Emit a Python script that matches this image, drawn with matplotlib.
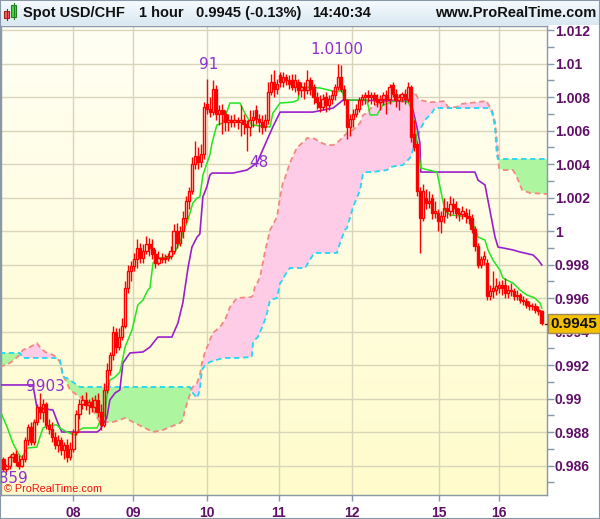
import numpy as np
import matplotlib.pyplot as plt
from matplotlib.patches import Rectangle
from matplotlib.lines import Line2D

plt.rcParams['font.family'] = ['Liberation Sans', 'DejaVu Sans']

# hourly USD/CHF bars, values in pips above 0.9800
opens = [64, 58, 60, 65, 67, 62, 60, 64, 75, 83,
         74, 86, 95, 92, 97, 84, 82, 77, 72, 75,
         69, 72, 65, 70, 80, 91, 97, 99, 96, 98,
         95, 99, 92, 84, 105, 117, 126, 140, 131, 137,
         143, 166, 176, 179, 183, 190, 184, 188, 192, 190,
         186, 181, 184, 183, 184, 185, 188, 200, 193, 200,
         208, 218, 224, 240, 245, 241, 246, 276, 273, 271,
         285, 270, 272, 270, 265, 266, 265, 266, 265, 266,
         264, 262, 266, 272, 267, 265, 262, 266, 283, 289,
         285, 293, 289, 292, 290, 290, 286, 289, 284, 286,
         284, 290, 286, 280, 277, 274, 280, 275, 279, 281,
         286, 292, 285, 278, 262, 267, 270, 273, 278, 280,
         281, 280, 281, 279, 277, 279, 281, 279, 287, 282,
         278, 280, 282, 279, 286, 258, 252, 224, 208, 220,
         217, 220, 211, 211, 206, 209, 214, 212, 216, 214,
         211, 210, 211, 209, 208, 201, 191, 180, 183, 181,
         161, 164, 165, 166, 168, 168, 163, 165, 164, 161,
         162, 159, 158, 156, 155, 155, 153, 152]
highs = [65, 61, 66, 68, 69, 66, 66, 77, 85, 86,
         88, 97, 103, 100, 98, 88, 86, 80, 78, 77,
         74, 76, 74, 82, 93, 100, 102, 104, 100, 101,
         102, 103, 97, 109, 121, 128, 143, 142, 142, 148,
         170, 180, 182, 187, 195, 193, 192, 197, 196, 195,
         189, 188, 187, 186, 187, 191, 204, 205, 203, 212,
         221, 226, 244, 254, 250, 252, 277, 291, 280, 290,
         287, 275, 276, 272, 270, 269, 270, 268, 275, 270,
         266, 272, 272, 275, 270, 269, 270, 289, 294, 296,
         291, 295, 295, 294, 293, 294, 294, 291, 289, 289,
         296, 292, 288, 283, 281, 282, 283, 281, 284, 288,
         300, 299, 287, 279, 270, 273, 276, 280, 282, 283,
         284, 283, 283, 282, 281, 283, 284, 288, 289, 285,
         282, 283, 285, 289, 287, 266, 254, 226, 228, 225,
         224, 222, 218, 213, 212, 220, 218, 221, 220, 218,
         214, 215, 214, 213, 210, 203, 193, 185, 188, 183,
         168, 176, 172, 170, 171, 172, 168, 169, 166, 165,
         163, 161, 160, 158, 157, 157, 155, 153]
lows = [57, 56, 58, 62, 60, 58, 59, 62, 72, 72,
        72, 84, 88, 86, 82, 79, 74, 70, 68, 66,
        64, 62, 63, 68, 78, 88, 94, 93, 91, 92,
        92, 89, 81, 83, 103, 114, 123, 127, 129, 135,
        142, 163, 170, 176, 178, 181, 181, 186, 185, 183,
        178, 180, 181, 181, 182, 183, 186, 190, 191, 196,
        205, 213, 222, 237, 237, 238, 243, 270, 268, 269,
        266, 263, 258, 260, 260, 262, 262, 261, 257, 258,
        248, 257, 262, 264, 259, 258, 260, 264, 281, 280,
        282, 286, 286, 287, 285, 284, 283, 281, 280, 279,
        282, 281, 276, 273, 271, 272, 271, 272, 276, 278,
        284, 283, 275, 255, 257, 262, 268, 271, 275, 276,
        277, 276, 275, 274, 272, 275, 270, 276, 280, 274,
        272, 277, 276, 277, 253, 248, 221, 187, 206, 213,
        214, 207, 208, 200, 199, 205, 208, 209, 210, 208,
        206, 207, 205, 204, 199, 188, 178, 178, 180, 159,
        159, 160, 162, 163, 162, 160, 160, 161, 159, 159,
        157, 156, 154, 153, 153, 151, 150, 144]
closes = [58, 60, 65, 67, 62, 60, 64, 75, 83, 74,
          86, 95, 92, 97, 84, 82, 77, 72, 75, 69,
          72, 65, 70, 80, 91, 97, 99, 96, 98, 95,
          99, 92, 84, 105, 117, 126, 140, 131, 137, 143,
          166, 176, 179, 183, 190, 184, 188, 192, 190, 186,
          181, 184, 183, 184, 185, 188, 200, 193, 200, 208,
          218, 224, 240, 245, 241, 246, 274, 273, 271, 285,
          270, 272, 270, 265, 266, 265, 266, 265, 266, 264,
          262, 266, 268, 267, 265, 262, 266, 283, 289, 285,
          288, 289, 292, 290, 288, 286, 290, 284, 286, 284,
          290, 285, 280, 277, 274, 279, 275, 279, 281, 286,
          292, 285, 278, 262, 267, 270, 273, 278, 280, 281,
          280, 281, 279, 277, 279, 281, 279, 286, 282, 278,
          280, 282, 279, 286, 256, 250, 224, 208, 224, 217,
          218, 211, 212, 206, 209, 214, 212, 216, 214, 211,
          210, 212, 209, 208, 201, 191, 180, 183, 185, 161,
          164, 166, 167, 168, 166, 163, 165, 164, 161, 162,
          159, 158, 156, 155, 155, 153, 152, 145]

# tenkan-sen (green) vertices: bar, pips
tenkan_bar = [-1.2, 1.2, 3.1, 4.8, 6.1, 7.7, 11.0, 12.0, 13.0, 15.3,
              17.6, 18.6, 20.9, 23.5, 24.5, 26.2, 30.8, 31.7, 33.4, 34.0,
              35.0, 36.7, 38.3, 39.3, 40.0, 42.3, 44.2, 45.9, 47.5, 48.2,
              49.2, 50.8, 55.4, 56.4, 58.1, 59.0, 60.7, 62.3, 63.7, 64.6,
              65.6, 67.9, 68.6, 70.2, 72.2, 74.5, 77.8, 79.4, 81.7, 87.7,
              88.6, 91.0, 95.2, 96.9, 97.5, 104.1, 109.7, 111.3, 112.3, 119.6,
              120.6, 122.9, 123.8, 124.8, 129.4, 133.1, 134.4, 135.4, 136.3, 137.3,
              142.6, 145.2, 146.9, 153.5, 154.4, 156.1, 158.4, 159.4, 161.0, 163.3,
              164.3, 165.6, 167.6, 169.9, 172.2, 174.8, 176.5, 177.1]
tenkan_val = [93.1, 83.0, 73.4, 67.5, 64.5, 70.4, 71.0, 77.0, 82.4, 84.2,
              84.2, 82.4, 80.0, 78.2, 80.6, 82.4, 82.4, 86.0, 90.2, 100.3,
              111.0, 112.8, 115.8, 124.2, 130.7, 140.9, 155.8, 158.8, 164.8, 166.0,
              180.9, 183.9, 184.5, 187.5, 193.4, 198.8, 206.6, 216.7, 219.7, 220.3,
              233.4, 245.4, 252.5, 263.3, 264.5, 276.4, 276.4, 270.4, 263.3, 262.1,
              270.4, 276.4, 277.0, 278.2, 286.0, 285.4, 283.0, 284.2, 278.2, 278.2,
              269.3, 269.3, 272.2, 275.2, 278.2, 277.0, 272.2, 262.1, 250.1, 237.6,
              235.2, 212.5, 209.6, 208.4, 204.8, 196.4, 194.6, 188.7, 182.7, 176.7,
              171.9, 170.7, 169.0, 164.8, 161.8, 160.0, 157.0, 154.0]

# kijun-sen (purple) vertices
kijun_bar = [-1.2, 9.7, 11.0, 12.0, 16.3, 17.9, 19.2, 30.8, 31.7, 34.0,
             35.0, 36.7, 38.3, 39.3, 41.6, 45.9, 48.2, 50.8, 55.4, 57.4,
             59.0, 60.7, 62.0, 63.7, 64.6, 65.6, 66.9, 67.9, 68.6, 75.5,
             80.1, 83.4, 86.7, 88.6, 91.0, 101.8, 108.4, 109.7, 111.7, 133.7,
             134.7, 136.0, 137.0, 137.3, 155.1, 156.1, 158.4, 160.0, 161.7, 162.7,
             164.3, 167.6, 169.9, 174.2, 175.9, 177.1]
kijun_val = [108.1, 108.1, 94.9, 94.3, 93.1, 85.4, 80.0, 80.0, 81.2, 88.4,
             99.1, 103.3, 105.1, 121.2, 127.2, 127.8, 130.7, 136.7, 136.7, 145.1,
             157.0, 177.9, 190.4, 196.4, 198.2, 220.3, 226.3, 233.4, 234.6, 234.6,
             236.4, 240.6, 254.3, 262.1, 271.0, 271.0, 273.4, 275.2, 278.2, 277.6,
             272.2, 262.1, 252.5, 235.2, 235.2, 230.4, 227.5, 212.5, 196.4, 190.4,
             189.9, 188.7, 187.5, 185.7, 182.7, 179.7]

# ichimoku cloud: senkou span A / B
cloud_bar = [-1.2, 2.1, 5.4, 6.4, 8.7, 11.0, 12.0, 13.7, 16.3, 17.6,
             18.6, 19.6, 20.9, 21.9, 24.2, 25.2, 27.5, 29.4, 31.7, 36.0,
             38.3, 40.0, 42.6, 45.9, 49.2, 52.5, 54.8, 58.1, 59.0, 59.7,
             61.3, 62.0, 63.7, 64.6, 65.3, 66.3, 66.9, 67.9, 68.9, 71.2,
             72.9, 74.5, 76.8, 81.7, 82.1, 82.7, 83.7, 84.4, 85.0, 86.0,
             86.7, 87.7, 90.0, 91.0, 91.9, 92.6, 94.2, 96.5, 98.2, 99.2,
             99.8, 100.8, 101.8, 102.5, 104.1, 106.4, 108.4, 109.7, 110.7, 112.3,
             113.0, 115.0, 117.3, 118.3, 119.6, 121.2, 123.8, 126.2, 127.1, 131.4,
             133.7, 134.7, 135.4, 136.3, 137.0, 138.7, 139.6, 140.9, 141.9, 145.2,
             146.2, 149.2, 150.2, 159.0, 159.4, 160.7, 161.7, 162.3, 162.7, 163.0,
             164.3, 167.6, 168.9, 170.6, 173.2, 178.9]
span_a = [118.8, 121.2, 126.0, 129.0, 130.7, 133.1, 130.7, 127.8, 126.0, 124.2,
          121.8, 114.0, 109.3, 105.1, 102.1, 100.9, 97.9, 93.1, 86.0, 86.0,
          87.2, 88.4, 86.0, 83.0, 80.0, 81.2, 83.0, 85.4, 87.2, 93.1,
          102.1, 106.3, 109.3, 114.0, 121.2, 127.8, 130.2, 135.0, 139.1, 142.7,
          146.9, 154.6, 160.0, 160.6, 161.8, 166.6, 169.6, 172.5, 177.9, 187.5,
          192.8, 200.6, 208.4, 220.3, 228.7, 231.6, 240.6, 249.6, 252.5, 253.7,
          255.5, 255.5, 255.5, 254.9, 253.1, 251.3, 251.3, 252.5, 254.3, 257.3,
          258.5, 260.3, 264.5, 269.3, 270.4, 274.0, 276.4, 277.6, 278.2, 278.2,
          279.4, 282.4, 282.4, 279.4, 278.2, 277.6, 277.0, 277.0, 277.0, 277.6,
          274.0, 274.0, 275.8, 277.6, 275.8, 272.2, 265.1, 254.3, 248.4, 237.6,
          236.4, 236.4, 232.2, 224.5, 222.7, 222.1]
span_b = [127.2, 127.2, 127.2, 124.2, 124.2, 124.2, 124.2, 124.2, 124.2, 124.2,
          123.0, 112.8, 112.2, 111.0, 108.1, 106.9, 106.9, 106.9, 106.9, 106.9,
          106.9, 106.9, 106.9, 106.9, 106.9, 106.9, 106.9, 106.9, 106.9, 106.9,
          106.9, 103.9, 100.3, 105.1, 117.0, 120.0, 120.6, 121.8, 122.4, 123.6,
          124.2, 124.2, 124.2, 124.8, 133.1, 135.0, 136.7, 139.7, 142.1, 146.9,
          151.0, 158.8, 160.0, 169.0, 170.7, 173.7, 177.9, 177.9, 177.9, 177.9,
          179.7, 182.7, 185.7, 186.9, 186.9, 186.9, 186.9, 186.9, 192.8, 200.6,
          201.8, 214.3, 224.5, 234.6, 235.2, 235.2, 235.8, 236.4, 238.2, 239.4,
          243.6, 248.4, 252.5, 256.1, 260.3, 266.3, 268.1, 270.4, 273.4, 273.4,
          273.4, 273.4, 273.4, 273.4, 273.4, 271.0, 262.1, 245.4, 243.0, 243.0,
          243.0, 243.0, 243.0, 243.0, 243.0, 243.0]

day_labels = ['08', '09', '10', '11', '12', '15', '16']
day_bars = [22.9, 42.6, 66.9, 90.6, 114.6, 143.3, 163.0]

ytick_vals = [0.986, 0.988, 0.990, 0.992, 0.994, 0.996, 0.998, 1.000,
              1.002, 1.004, 1.006, 1.008, 1.010, 1.012]
ytick_labels = ['0.986', '0.988', '0.99', '0.992', '0.994', '0.996', '0.998', '1',
                '1.002', '1.004', '1.006', '1.008', '1.01', '1.012']
minor_vals = [0.985, 0.987, 0.989, 0.991, 0.993, 0.995, 0.997, 0.999,
              1.001, 1.003, 1.005, 1.007, 1.009, 1.011]


def pips(v):
    return 0.98 + np.asarray(v, dtype=float) / 10000


W, H = 600, 519
fig = plt.figure(figsize=(W / 100, H / 100), dpi=100)
fig.patch.set_facecolor('white')


def box(x0, y0, x1, y1):
    # pixel box (top-left origin) -> figure rect
    return [x0 / W, 1 - y1 / H, (x1 - x0) / W, (y1 - y0) / H]


grad = np.linspace(0, 1, 64)[:, None, None]
axis_col = '#8898a8'
lab_col = '#5e0f66'

# ---- title bar
tax = fig.add_axes(box(0, 0, 600, 25))
c_top, c_bot = np.array([0.97, 0.985, 0.995]), np.array([0.85, 0.91, 0.95])
tax.imshow(c_top + (c_bot - c_top) * grad, extent=[0, 600, 25, 0], aspect='auto')
tax.set_xlim(0, 600)
tax.set_ylim(25, 0)
tax.axis('off')
tax.plot([6.5, 6.5], [9, 20], color='#a02020', lw=0.8)
tax.add_patch(Rectangle((4, 11), 5, 7, fc='#f06060', ec='#a02020', lw=0.8))
tax.plot([13.5, 13.5], [3, 19], color='#208020', lw=0.8)
tax.add_patch(Rectangle((11, 5), 5, 12, fc='#44dd44', ec='#208020', lw=0.8))
for tx, s in [(23, 'Spot USD/CHF'), (139, '1 hour'), (196, '0.9945 (-0.13%)'), (312, '14:40:34')]:
    tax.text(tx, 13, s, fontsize=10.5, fontweight='bold', color='#111111', va='center', ha='left')
tax.text(596, 13, 'www.ProRealTime.com', fontsize=10.5, fontweight='bold', color='#111111',
         va='center', ha='right')

# ---- main chart
ax = fig.add_axes(box(1, 26, 547, 495))
x0, x1 = -0.8, 178.8
y0, y1 = 0.98424, 1.01224
b_top, b_bot = np.array([1.0, 1.0, 0.955]), np.array([1.0, 0.985, 0.80])
ax.imshow(b_top + (b_bot - b_top) * grad, extent=[x0, x1, y0, y1], aspect='auto', zorder=0)
ax.set_axisbelow(True)
ax.grid(True, color='#d9d5bb', lw=1)

cb = np.array(cloud_bar)
sa, sb = pips(span_a), pips(span_b)
ax.fill_between(cb, sa, sb, where=sa >= sb, interpolate=True, color='#ffcce8', lw=0, zorder=2)
ax.fill_between(cb, sa, sb, where=sa < sb, interpolate=True, color='#aef5a0', lw=0, zorder=2)
ax.plot(cb, sa, color='#f08a80', lw=1.3, ls=(0, (3, 2)), zorder=3)
ax.plot(cb, sb, color='#22d8f0', lw=1.3, ls=(0, (3, 2)), zorder=3)

ax.plot(kijun_bar, pips(kijun_val), color='#9a1fcc', lw=1.2, zorder=4)
ax.plot(tenkan_bar, pips(tenkan_val), color='#22e622', lw=1.1, zorder=4)

o, hi, lo, c = pips(opens), pips(highs), pips(lows), pips(closes)
xb = np.arange(len(c))
top = np.maximum(o, c)
bot = np.minimum(o, c)
ax.vlines(xb, top, hi, color='#ff0000', lw=1, zorder=5)
ax.vlines(xb, lo, bot, color='#ff0000', lw=1, zorder=5)
up = c >= o
hgt = np.maximum(top - bot, 0.00003)
ax.bar(xb[up], hgt[up], bottom=bot[up], width=0.78, facecolor='none',
       edgecolor='#ff0000', lw=1.0, zorder=6)
ax.bar(xb[~up], hgt[~up], bottom=bot[~up], width=0.78, facecolor='#ee0000',
       edgecolor='#ff0000', lw=1.0, zorder=6)

# swing labels
lab_kw = dict(textcoords='offset pixels', ha='center', va='center', color='#9030d0',
              fontsize=11, family='DejaVu Sans', zorder=7)
for s, xy, off in [('91', (67, hi[67]), (2, 14)),
                   ('1.0100', (110, hi[110]), (-1, 14)),
                   ('48', (80, lo[80]), (12, -12)),
                   ('9903', (12, hi[12]), (6, 7))]:
    ax.annotate(s, xy=xy, xytext=off, **lab_kw)
t = ax.annotate('9859', xy=(1, lo[1]), xytext=(21, -6),
                **{**lab_kw, 'ha': 'right'})
t.set_clip_on(True)
t.set_clip_path(ax.patch)

ax.set_xlim(x0, x1)
ax.set_ylim(y0, y1)
ax.set_xticks(day_bars)
ax.set_xticklabels(day_labels)
ax.yaxis.tick_right()
ax.set_yticks(ytick_vals)
ax.set_yticklabels(ytick_labels)
ax.set_yticks(minor_vals, minor=True)
ax.tick_params(axis='y', which='both', direction='out', length=5, width=1,
               color=axis_col, pad=0.5, labelsize=10, labelcolor=lab_col)
ax.tick_params(axis='x', direction='out', length=4, width=1, color=axis_col,
               pad=4, labelsize=10, labelcolor=lab_col)
for lbl in ax.get_xticklabels() + ax.get_yticklabels():
    lbl.set_fontweight('bold')
for sp in ax.spines.values():
    sp.set_color(axis_col)
    sp.set_linewidth(1)

# last price marker
fig.add_artist(Line2D([545 / W, 551 / W], [1 - 324 / H] * 2, color='#333333', lw=1))
fig.text(574 / W, 1 - 323.5 / H, '0.9945', ha='center', va='center', fontsize=11,
         fontweight='bold', color='#111111',
         bbox=dict(boxstyle='square,pad=0.18', fc='#f4c000', ec='#9c8a5c', lw=1))

fig.text(4 / W, 1 - 489 / H, '\u00a9 ProRealTime.com', color='#ee1111', fontsize=7.8,
         va='center', ha='left')

fig.add_artist(Rectangle((0, 0), 1, 1, transform=fig.transFigure, fill=False,
                         ec=axis_col, lw=1.5))

fig.savefig('out.png', dpi=100)
